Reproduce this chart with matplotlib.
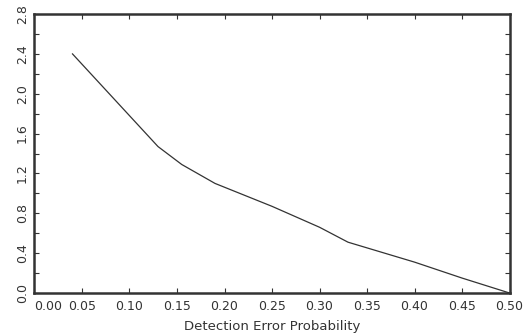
import numpy as np
import matplotlib.pyplot as plt

# values
err_prob = [0.04, 0.13, 0.155, 0.19, 0.25, 0.30, 0.33, 0.40, 0.45, 0.50]
value = [2.40, 1.47, 1.29, 1.10, 0.87, 0.66, 0.51, 0.31, 0.15, 0.0]

xticks = np.arange(0, 0.501, 0.05)
yticks = np.arange(0, 2.81, 0.2)
ylabels = ['%.1f' % v if round(v * 10) % 4 == 0 else '' for v in yticks]

plt.rcParams['font.family'] = 'DejaVu Sans'
plt.rcParams['font.size'] = 9

fig = plt.figure(figsize=(5.25, 3.35), dpi=100)
ax = fig.add_axes([0.0657, 0.1254, 0.9048, 0.8326])

ax.plot(err_prob, value, color='#333333', lw=0.9)

ax.set_xlim(0, 0.5)
ax.set_ylim(0, 2.8)
ax.set_xticks(xticks)
ax.set_xticklabels(['%.2f' % v for v in xticks])
ax.get_xticklabels()[0].set_horizontalalignment('left')
ax.set_yticks(yticks)
ax.set_yticklabels(ylabels, rotation=90, va='center')

ax.tick_params(direction='in', length=3.5, width=0.8, top=True, right=True,
               colors='#333333', labelcolor='#333333', pad=5)
ax.tick_params(axis='y', pad=4)
for s in ax.spines.values():
    s.set_linewidth(1.8)
    s.set_color('#333333')

ax.set_xlabel('Detection Error Probability', labelpad=5, fontsize=9.5, color='#333333')

fig.savefig('out.png', dpi=100)
